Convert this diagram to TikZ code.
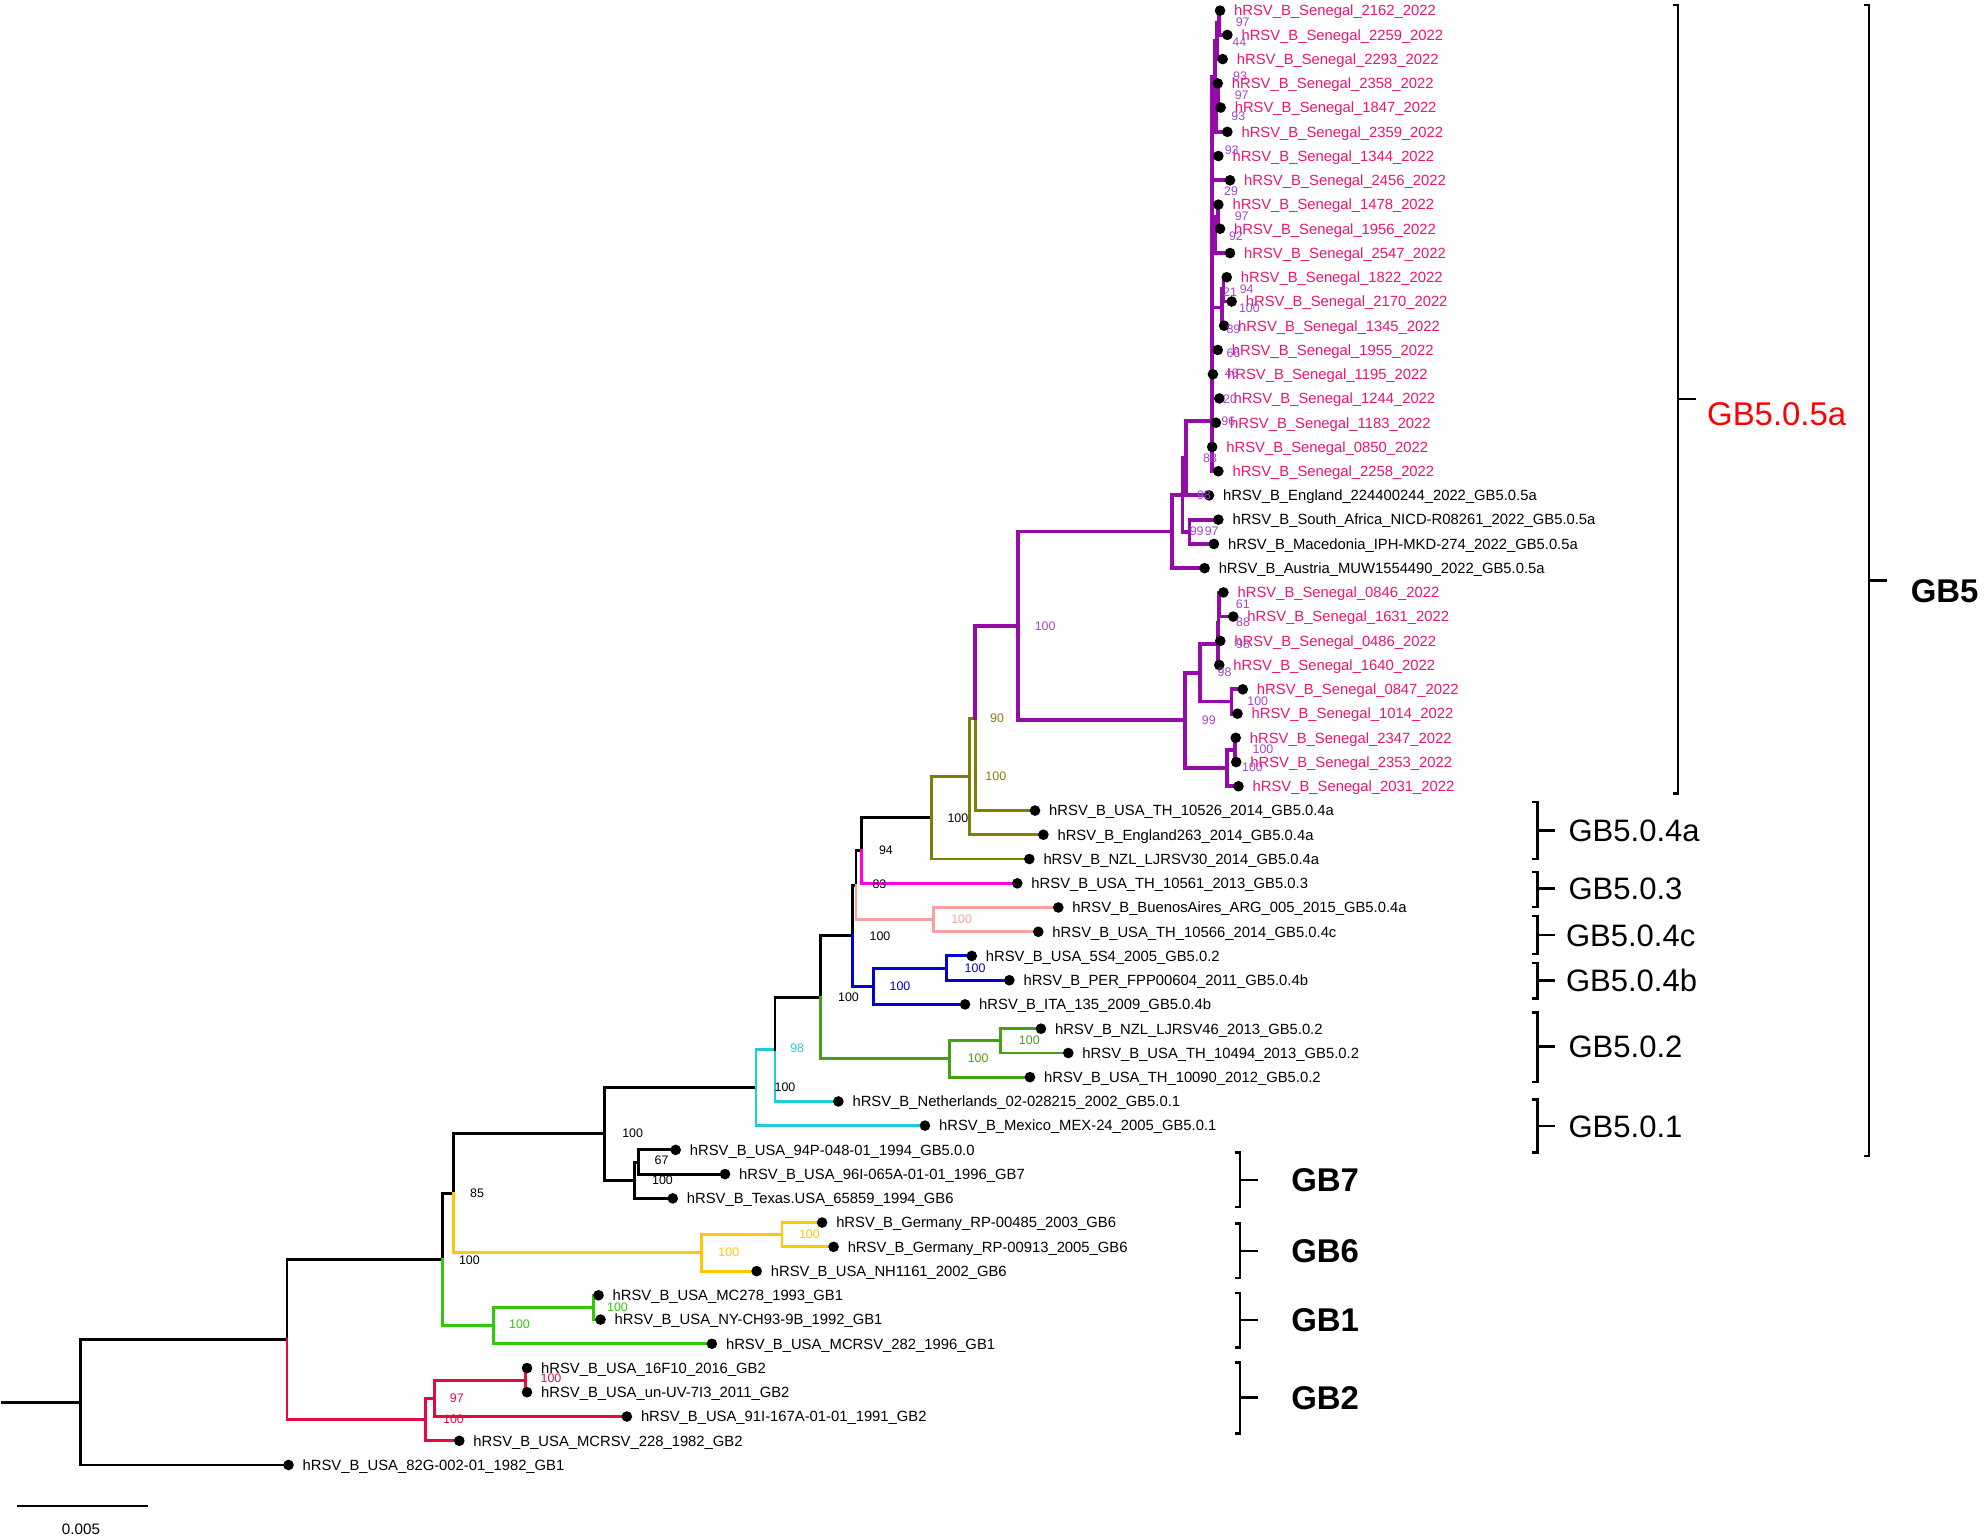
\documentclass[tikz,border=0pt]{standalone}
\usepackage{fontspec}
\setmainfont{Liberation Sans}
\definecolor{cpur}{RGB}{150,10,170}
\definecolor{cpurt}{RGB}{165,70,205}
\definecolor{cpink}{RGB}{238,20,110}
\definecolor{colive}{RGB}{128,128,0}
\definecolor{cmag}{RGB}{255,0,230}
\definecolor{csal}{RGB}{250,160,160}
\definecolor{cblue}{RGB}{0,0,215}
\definecolor{cgrn}{RGB}{70,160,20}
\definecolor{ccyan}{RGB}{30,205,215}
\definecolor{cyel}{RGB}{255,200,0}
\definecolor{clime}{RGB}{50,200,10}
\definecolor{cred}{RGB}{232,10,62}
\newcommand\sen[1]{hRSV\_B\_Senegal\_#1\_2022}
\newcommand\LL[3]{\node[lab,text=#2] (t#1) at ([xshift=11pt,yshift=-4.2pt]l#1) {#3};}
\newcommand\BS[5]{\node[bs,text=#4] (#1) at (#2,#3) {#5};}
\begin{document}
\begin{tikzpicture}[x=1pt,y=-1pt,
  br/.style={draw=black,line width=2.3pt,line join=miter,line cap=rect},
  pbr/.style={br,draw=cpur,line width=3pt},
  dot/.style={circle,fill=black,inner sep=0pt,minimum size=8.4pt},
  lab/.style={anchor=base west,inner sep=0pt,font=\fontsize{11.7}{13}\selectfont},
  bs/.style={inner sep=0pt,font=\fontsize{9.8}{10}\selectfont},
  brk/.style={draw=black,line width=2pt,line join=miter},
  gbl/.style={anchor=base west,inner sep=0pt,font=\fontsize{24.5}{26}\selectfont},
  gbb/.style={anchor=base west,inner sep=0pt,font=\fontsize{26}{28}\selectfont\bfseries}]
\useasboundingbox (0,0) rectangle (1568,1217);
% ---------- leaf positions
\coordinate (l1) at (964.2,8.4);
\coordinate (l2) at (970,27.6);
\coordinate (l3) at (966.3,46.7);
\coordinate (l4) at (962.4,65.9);
\coordinate (l5) at (964.7,85.0);
\coordinate (l6) at (970,104.2);
\coordinate (l7) at (962.9,123.3);
\coordinate (l8) at (972.1,142.5);
\coordinate (l9) at (962.9,161.7);
\coordinate (l10) at (964.2,180.8);
\coordinate (l11) at (972.1,200.0);
\coordinate (l12) at (969.5,219.1);
\coordinate (l13) at (973.4,238.3);
\coordinate (l14) at (967.4,257.4);
\coordinate (l15) at (962.4,276.6);
\coordinate (l16) at (958.6,295.8);
\coordinate (l17) at (963.7,314.9);
\coordinate (l18) at (961,334.1);
\coordinate (l19) at (958,353.2);
\coordinate (l20) at (962.9,372.4);
\coordinate (l21) at (955.5,391.5);
\coordinate (l22) at (962.9,410.7);
\coordinate (l23) at (959.4,429.9);
\coordinate (l24) at (952,449.0);
\coordinate (l25) at (966.9,468.2);
\coordinate (l26) at (974.7,487.3);
\coordinate (l27) at (964.4,506.5);
\coordinate (l28) at (963.6,525.6);
\coordinate (l29) at (982.2,544.8);
\coordinate (l30) at (978,564.0);
\coordinate (l31) at (976.6,583.1);
\coordinate (l32) at (977,602.3);
\coordinate (l33) at (978.8,621.4);
\coordinate (l34) at (818,640.6);
\coordinate (l35) at (824.6,659.7);
\coordinate (l36) at (813.5,678.9);
\coordinate (l37) at (804,698.1);
\coordinate (l38) at (836.4,717.2);
\coordinate (l39) at (820.6,736.4);
\coordinate (l40) at (768,755.5);
\coordinate (l41) at (797.7,774.7);
\coordinate (l42) at (762.7,793.8);
\coordinate (l43) at (822.7,813.0);
\coordinate (l44) at (844.3,832.2);
\coordinate (l45) at (814,851.3);
\coordinate (l46) at (662.6,870.5);
\coordinate (l47) at (731,889.6);
\coordinate (l48) at (534,908.8);
\coordinate (l49) at (573,927.9);
\coordinate (l50) at (531.7,947.1);
\coordinate (l51) at (649.7,966.2);
\coordinate (l52) at (658.8,985.4);
\coordinate (l53) at (598,1004.6);
\coordinate (l54) at (473,1023.7);
\coordinate (l55) at (474.6,1042.9);
\coordinate (l56) at (562.6,1062.0);
\coordinate (l57) at (416.5,1081.2);
\coordinate (l58) at (416.5,1100.3);
\coordinate (l59) at (495.4,1119.5);
\coordinate (l60) at (363,1138.7);
\coordinate (l61) at (228,1157.8);
% ---------- internal nodes
\coordinate (r0) at (2,1108.2);
\coordinate (R) at (63.5,1108.2);
\coordinate (B) at (226.8,1058.6);
\coordinate (C) at (350,995.4);
\coordinate (D) at (358.4,943.1);
\coordinate (E) at (477.7,896.1);
\coordinate (F) at (501.7,932.7);
\coordinate (G) at (504.5,918.4);
\coordinate (I) at (554.4,990.2);
\coordinate (J) at (618,975.8);
\coordinate (K) at (390.2,1047.7);
\coordinate (L) at (469,1033.3);
\coordinate (M) at (336.6,1121.9);
\coordinate (N) at (343.5,1105.1);
\coordinate (O) at (415,1090.8);
\coordinate (H) at (597.5,859.5);
\coordinate (Q) at (612.5,829.3);
\coordinate (S) at (648.6,788.2);
\coordinate (T) at (673.9,739.5);
\coordinate (Z) at (676.5,699.5);
\coordinate (AA) at (681,672.2);
\coordinate (AB) at (736.3,646.3);
\coordinate (AC) at (766,613.7);
\coordinate (AD) at (770.6,567.6);
\coordinate (AE) at (804.8,494.7);
\coordinate (W) at (690.2,779.5);
\coordinate (X) at (748.2,765.1);
\coordinate (Y) at (737.7,726.8);
\coordinate (U) at (750.3,836.9);
\coordinate (V) at (790.8,822.6);
\coordinate (AF) at (926.5,420.1);
\coordinate (AX) at (934.5,391.1);
\coordinate (AY) at (937.5,362.0);
\coordinate (AO) at (940,420.3);
\coordinate (AN) at (958,332.5);
\coordinate (AG) at (936.7,569.3);
\coordinate (AH) at (948.4,531.6);
\coordinate (AJ3) at (962.5,508.9);
\coordinate (AJ2) at (963,492.1);
\coordinate (AJ1) at (963.5,477.8);
\coordinate (AK) at (973.3,554.4);
\coordinate (AI) at (970,607.1);
\coordinate (AL) at (976,592.7);
\coordinate (s1) at (963.5,18.0);
\coordinate (s2) at (962,32.1);
\coordinate (s3) at (963,75.5);
\coordinate (s4) at (961,89.8);
\coordinate (s5) at (960.5,60.9);
\coordinate (s6) at (962.5,171.2);
\coordinate (s7) at (960,185.6);
\coordinate (s8) at (967,228.7);
\coordinate (s9) at (966,243.0);
% ---------- branches
\draw[br] (r0) -- (R);
\draw[br] (R) |- (B);
\draw[br] (R) |- (l61);
\draw[br] (B) |- (C);
\draw[br,draw=cred] (B) |- (M);
\draw[br,draw=cred] (M) |- (N);
\draw[br,draw=cred] (M) |- (l60);
\draw[br,draw=cred] (N) |- (O);
\draw[br,draw=cred] (N) |- (l59);
\draw[br,draw=cred] (O) |- (l57);
\draw[br,draw=cred] (O) |- (l58);
\draw[br] (C) |- (D);
\draw[br,draw=clime] (C) |- (K);
\draw[br,draw=clime] (K) |- (L);
\draw[br,draw=clime] (K) |- (l56);
\draw[br,draw=clime] (L) |- (l54);
\draw[br,draw=clime] (L) |- (l55);
\draw[br] (D) |- (E);
\draw[br,draw=cyel] (D) |- (I);
\draw[br,draw=cyel] (I) |- (J);
\draw[br,draw=cyel] (I) |- (l53);
\draw[br,draw=cyel] (J) |- (l51);
\draw[br,draw=cyel] (J) |- (l52);
\draw[br] (E) |- (H);
\draw[br] (E) |- (F);
\draw[br] (F) |- (G);
\draw[br] (F) |- (l50);
\draw[br] (G) |- (l48);
\draw[br] (G) |- (l49);
\draw[br,draw=ccyan] (H) |- (Q);
\draw[br,draw=ccyan] (H) |- (l47);
\draw[br,draw=ccyan] (Q) |- (l46);
\draw[br] (Q) |- (S);
\draw[br] (S) |- (T);
\draw[br,draw=cgrn] (S) |- (U);
\draw[br,draw=cgrn] (U) |- (V);
\draw[br,draw=cgrn] (U) |- (l45);
\draw[br,draw=cgrn] (V) |- (l43);
\draw[br,draw=cgrn] (V) |- (l44);
\draw[br] (T) |- (Z);
\draw[br,draw=cblue] (T) |- (W);
\draw[br,draw=cblue] (W) |- (X);
\draw[br,draw=cblue] (W) |- (l42);
\draw[br,draw=cblue] (X) |- (l40);
\draw[br,draw=cblue] (X) |- (l41);
\draw[br] (Z) |- (AA);
\draw[br,draw=csal] (Z) |- (Y);
\draw[br,draw=csal] (Y) |- (l38);
\draw[br,draw=csal] (Y) |- (l39);
\draw[br] (AA) |- (AB);
\draw[br,draw=cmag] (AA) |- (l37);
\draw[br,draw=colive] (AB) |- (AC);
\draw[br,draw=colive] (AB) |- (l36);
\draw[br,draw=colive] (AC) |- (AD);
\draw[br,draw=colive] (AC) |- (l35);
\draw[br,draw=colive] (AD) |- (l34);
\draw[pbr] (AD) |- (AE);
\draw[pbr] (AE) |- (AF);
\draw[pbr] (AE) |- (AG);
\draw[pbr] (AF) |- (AX);
\draw[pbr] (AF) |- (l24);
\draw[pbr] (AX) |- (AY);
\draw[pbr] (AX) |- (AO);
\draw[pbr] (AO) |- (l22);
\draw[pbr] (AO) |- (l23);
\draw[pbr] (AY) |- (AN);
\draw[pbr] (AY) |- (l21);
\draw[pbr] (AN) |- (s5);
\draw[pbr] (AN) |- (l7);
\draw[pbr] (AN) |- (l8);
\draw[pbr] (AN) |- (s7);
\draw[pbr] (AN) |- (s9);
\draw[pbr] (AN) |- (l15);
\draw[pbr] (AN) |- (l16);
\draw[pbr] (AN) |- (l17);
\draw[pbr] (AN) |- (l18);
\draw[pbr] (AN) |- (l19);
\draw[pbr] (AN) |- (l20);
\draw[pbr] (s5) |- (s2);
\draw[pbr] (s5) |- (s4);
\draw[pbr] (s2) |- (s1);
\draw[pbr] (s2) |- (l3);
\draw[pbr] (s1) |- (l1);
\draw[pbr] (s1) |- (l2);
\draw[pbr] (s4) |- (s3);
\draw[pbr] (s4) |- (l6);
\draw[pbr] (s3) |- (l4);
\draw[pbr] (s3) |- (l5);
\draw[pbr] (s7) |- (s6);
\draw[pbr] (s7) |- (l11);
\draw[pbr] (s6) |- (l9);
\draw[pbr] (s6) |- (l10);
\draw[pbr] (s9) |- (s8);
\draw[pbr] (s9) |- (l14);
\draw[pbr] (s8) |- (l12);
\draw[pbr] (s8) |- (l13);
\draw[pbr] (AG) |- (AH);
\draw[pbr] (AG) |- (AI);
\draw[pbr] (AH) |- (AJ3);
\draw[pbr] (AH) |- (AK);
\draw[pbr] (AJ3) |- (AJ2);
\draw[pbr] (AJ3) |- (l28);
\draw[pbr] (AJ2) |- (AJ1);
\draw[pbr] (AJ2) |- (l27);
\draw[pbr] (AJ1) |- (l25);
\draw[pbr] (AJ1) |- (l26);
\draw[pbr] (AK) |- (l29);
\draw[pbr] (AK) |- (l30);
\draw[pbr] (AI) |- (AL);
\draw[pbr] (AI) |- (l33);
\draw[pbr] (AL) |- (l31);
\draw[pbr] (AL) |- (l32);
% ---------- tip dots
\foreach \i in {1,...,61} \node[dot] (d\i) at (l\i) {};
% ---------- tip labels
\LL{1}{cpink}{\sen{2162}}
\LL{2}{cpink}{\sen{2259}}
\LL{3}{cpink}{\sen{2293}}
\LL{4}{cpink}{\sen{2358}}
\LL{5}{cpink}{\sen{1847}}
\LL{6}{cpink}{\sen{2359}}
\LL{7}{cpink}{\sen{1344}}
\LL{8}{cpink}{\sen{2456}}
\LL{9}{cpink}{\sen{1478}}
\LL{10}{cpink}{\sen{1956}}
\LL{11}{cpink}{\sen{2547}}
\LL{12}{cpink}{\sen{1822}}
\LL{13}{cpink}{\sen{2170}}
\LL{14}{cpink}{\sen{1345}}
\LL{15}{cpink}{\sen{1955}}
\LL{16}{cpink}{\sen{1195}}
\LL{17}{cpink}{\sen{1244}}
\LL{18}{cpink}{\sen{1183}}
\LL{19}{cpink}{\sen{0850}}
\LL{20}{cpink}{\sen{2258}}
\LL{21}{black}{hRSV\_B\_England\_224400244\_2022\_GB5.0.5a}
\LL{22}{black}{hRSV\_B\_South\_Africa\_NICD-R08261\_2022\_GB5.0.5a}
\LL{23}{black}{hRSV\_B\_Macedonia\_IPH-MKD-274\_2022\_GB5.0.5a}
\LL{24}{black}{hRSV\_B\_Austria\_MUW1554490\_2022\_GB5.0.5a}
\LL{25}{cpink}{\sen{0846}}
\LL{26}{cpink}{\sen{1631}}
\LL{27}{cpink}{\sen{0486}}
\LL{28}{cpink}{\sen{1640}}
\LL{29}{cpink}{\sen{0847}}
\LL{30}{cpink}{\sen{1014}}
\LL{31}{cpink}{\sen{2347}}
\LL{32}{cpink}{\sen{2353}}
\LL{33}{cpink}{\sen{2031}}
\LL{34}{black}{hRSV\_B\_USA\_TH\_10526\_2014\_GB5.0.4a}
\LL{35}{black}{hRSV\_B\_England263\_2014\_GB5.0.4a}
\LL{36}{black}{hRSV\_B\_NZL\_LJRSV30\_2014\_GB5.0.4a}
\LL{37}{black}{hRSV\_B\_USA\_TH\_10561\_2013\_GB5.0.3}
\LL{38}{black}{hRSV\_B\_BuenosAires\_ARG\_005\_2015\_GB5.0.4a}
\LL{39}{black}{hRSV\_B\_USA\_TH\_10566\_2014\_GB5.0.4c}
\LL{40}{black}{hRSV\_B\_USA\_5S4\_2005\_GB5.0.2}
\LL{41}{black}{hRSV\_B\_PER\_FPP00604\_2011\_GB5.0.4b}
\LL{42}{black}{hRSV\_B\_ITA\_135\_2009\_GB5.0.4b}
\LL{43}{black}{hRSV\_B\_NZL\_LJRSV46\_2013\_GB5.0.2}
\LL{44}{black}{hRSV\_B\_USA\_TH\_10494\_2013\_GB5.0.2}
\LL{45}{black}{hRSV\_B\_USA\_TH\_10090\_2012\_GB5.0.2}
\LL{46}{black}{hRSV\_B\_Netherlands\_02-028215\_2002\_GB5.0.1}
\LL{47}{black}{hRSV\_B\_Mexico\_MEX-24\_2005\_GB5.0.1}
\LL{48}{black}{hRSV\_B\_USA\_94P-048-01\_1994\_GB5.0.0}
\LL{49}{black}{hRSV\_B\_USA\_96I-065A-01-01\_1996\_GB7}
\LL{50}{black}{hRSV\_B\_Texas.USA\_65859\_1994\_GB6}
\LL{51}{black}{hRSV\_B\_Germany\_RP-00485\_2003\_GB6}
\LL{52}{black}{hRSV\_B\_Germany\_RP-00913\_2005\_GB6}
\LL{53}{black}{hRSV\_B\_USA\_NH1161\_2002\_GB6}
\LL{54}{black}{hRSV\_B\_USA\_MC278\_1993\_GB1}
\LL{55}{black}{hRSV\_B\_USA\_NY-CH93-9B\_1992\_GB1}
\LL{56}{black}{hRSV\_B\_USA\_MCRSV\_282\_1996\_GB1}
\LL{57}{black}{hRSV\_B\_USA\_16F10\_2016\_GB2}
\LL{58}{black}{hRSV\_B\_USA\_un-UV-7I3\_2011\_GB2}
\LL{59}{black}{hRSV\_B\_USA\_91I-167A-01-01\_1991\_GB2}
\LL{60}{black}{hRSV\_B\_USA\_MCRSV\_228\_1982\_GB2}
\LL{61}{black}{hRSV\_B\_USA\_82G-002-01\_1982\_GB1}
% ---------- bootstrap values
\BS{b1}{982.1}{17.9}{cpurt}{97}
\BS{b2}{979.5}{33.7}{cpurt}{44}
\BS{b3}{980}{60}{cpurt}{93}
\BS{b4}{981.3}{75}{cpurt}{97}
\BS{b5}{978.7}{91.7}{cpurt}{93}
\BS{b6}{973.4}{118.5}{cpurt}{93}
\BS{b7}{972.9}{151.5}{cpurt}{29}
\BS{b8}{981.3}{170.7}{cpurt}{97}
\BS{b9}{976.8}{187}{cpurt}{92}
\BS{b10}{972.1}{231.3}{cpurt}{21}
\BS{b11}{985.3}{228.7}{cpurt}{94}
\BS{b12}{987.4}{243.7}{cpurt}{100}
\BS{b13}{974.8}{260.3}{cpurt}{89}
\BS{b14}{974.8}{279.3}{cpurt}{66}
\BS{b15}{973.4}{295}{cpurt}{46}
\BS{b16}{972.1}{315.6}{cpurt}{20}
\BS{b17}{970.8}{333.3}{cpurt}{96}
\BS{b18}{956.3}{362.2}{cpurt}{88}
\BS{b19}{951.5}{391.2}{cpurt}{98}
\BS{b20}{945.8}{420.2}{cpurt}{99}
\BS{b21}{957.6}{420.2}{cpurt}{97}
\BS{b22}{826}{494.7}{cpurt}{100}
\BS{b23}{982.2}{477.4}{cpurt}{61}
\BS{b24}{982.4}{491.5}{cpurt}{88}
\BS{b25}{982.4}{509}{cpurt}{98}
\BS{b26}{967.8}{531.6}{cpurt}{98}
\BS{b27}{994}{554.2}{cpurt}{100}
\BS{b28}{955.3}{569}{cpurt}{99}
\BS{b29}{998.2}{592.4}{cpurt}{100}
\BS{b30}{989.9}{606.6}{cpurt}{100}
\BS{b31}{788}{568}{colive}{90}
\BS{b32}{787}{613.5}{colive}{100}
\BS{b33}{757}{646.3}{black}{100}
\BS{b34}{700.2}{672.3}{black}{94}
\BS{b35}{695}{699}{black}{83}
\BS{b36}{760}{726.8}{csal}{100}
\BS{b37}{695.5}{739.8}{black}{100}
\BS{b38}{770.6}{765.3}{cblue}{100}
\BS{b39}{711.3}{779.4}{cblue}{100}
\BS{b40}{670.6}{788}{black}{100}
\BS{b41}{813.5}{822.4}{cgrn}{100}
\BS{b42}{773}{836.6}{cgrn}{100}
\BS{b43}{630}{828.8}{ccyan}{98}
\BS{b44}{620.4}{859}{black}{100}
\BS{b45}{500}{895.8}{black}{100}
\BS{b46}{522.9}{917}{black}{67}
\BS{b47}{523.6}{932.6}{black}{100}
\BS{b48}{639.7}{975.7}{cyel}{100}
\BS{b49}{576}{990}{cyel}{100}
\BS{b50}{377}{943}{black}{85}
\BS{b51}{371}{996}{black}{100}
\BS{b52}{488}{1032.8}{clime}{100}
\BS{b53}{410.6}{1046.8}{clime}{100}
\BS{b54}{435.5}{1089.5}{cred}{100}
\BS{b55}{361}{1104.8}{cred}{97}
\BS{b56}{358.4}{1122}{cred}{100}
% ---------- clade brackets
\coordinate (k1a) at (1326,4); \coordinate (k1b) at (1326,627);
\draw[brk] ([xshift=-4pt]k1a) -- (k1a) -- (k1b) -- ([xshift=-4pt]k1b);
\coordinate (k1m) at (1326,315.5); \draw[brk] (k1m) -- ++(14,0);
\node[gbl,text=red,font=\fontsize{26}{28}\selectfont] (g1) at (1349,336.3) {GB5.0.5a};
\coordinate (k2a) at (1477,4); \coordinate (k2b) at (1477,913.5);
\draw[brk] ([xshift=-4pt]k2a) -- (k2a) -- (k2b) -- ([xshift=-4pt]k2b);
\coordinate (k2m) at (1477,458.7); \draw[brk] (k2m) -- ++(14,0);
\node[gbb] (g2) at (1510,476.3) {GB5};
\foreach \n/\ya/\yb/\ym/\xl/\txt in {3/634/679/656.5/1239.5/GB5.0.4a, 4/689/717/702/1239.5/GB5.0.3, 5/724/754/739/1237.5/GB5.0.4c, 6/761/789/775/1237.5/GB5.0.4b, 7/800/855/827/1239.5/GB5.0.2, 8/869/911/890/1239.5/GB5.0.1}{
  \draw[brk] (1211,\ya) -- (1215,\ya) -- (1215,\yb) -- (1211,\yb);
  \draw[brk] (1215,\ym) -- (1229,\ym);
  \node[gbl] (g\n) at (\xl,\ym+8.8) {\txt};
}
\foreach \n/\ya/\yb/\ym/\txt in {9/911/954/932.6/GB7, 10/967/1010/988.5/GB6, 11/1022/1065/1043.2/GB1, 12/1077/1133/1104.3/GB2}{
  \draw[brk] (976,\ya) -- (980,\ya) -- (980,\yb) -- (976,\yb);
  \draw[brk] (980,\ym) -- (994,\ym);
  \node[gbb] (g\n) at (1020.3,\ym+9.3) {\txt};
}
% ---------- scale bar
\coordinate (sc1) at (13.6,1190.2); \coordinate (sc2) at (117,1190.2);
\draw[line width=2.3pt] (sc1) -- (sc2);
\node[inner sep=0pt,font=\fontsize{12}{13}\selectfont] (sct) at (64,1209) {0.005};
\end{tikzpicture}
\end{document}
